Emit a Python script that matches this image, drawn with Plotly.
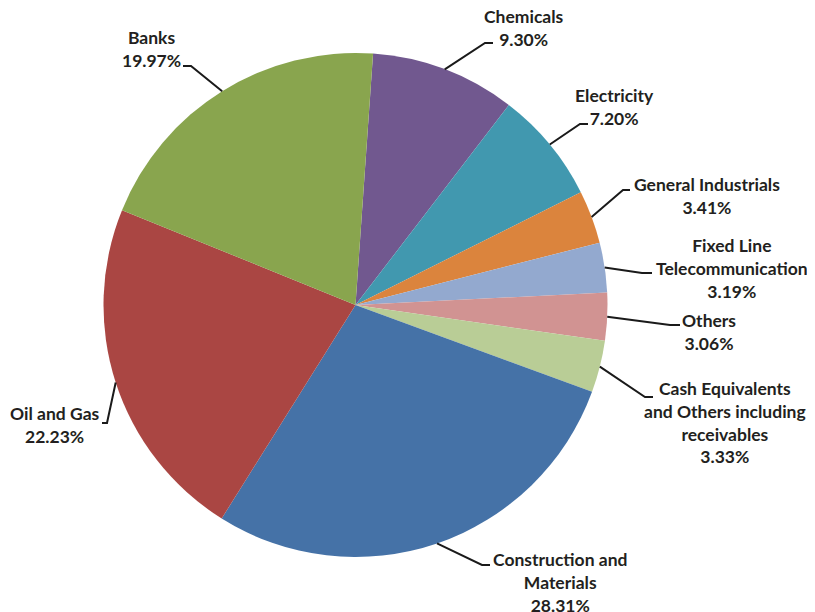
import math
import plotly.graph_objects as go

# ---- data ----
categories = ["Chemicals", "Electricity", "General Industrials",
              "Fixed Line Telecommunication", "Others",
              "Cash Equivalents and Others including receivables",
              "Construction and Materials", "Oil and Gas", "Banks"]
label_lines = ["Chemicals", "Electricity", "General Industrials",
               "Fixed Line<br>Telecommunication", "Others",
               "Cash Equivalents<br>and Others including<br>receivables",
               "Construction and<br>Materials", "Oil and Gas", "Banks"]
values = [9.30, 7.20, 3.41, 3.19, 3.06, 3.33, 28.31, 22.23, 19.97]
colors = ["#71588F", "#4198AF", "#DB843D", "#93A9CF", "#D19392",
          "#B9CD96", "#4572A7", "#AA4643", "#89A54E"]

# ---- layout (pixels, in the 815x612 window frame) ----
OFF = 8                      # page body margin
W, H = 815 - OFF, 612 - OFF  # figure size
CX, CY, R = 355.5, 305.0, 252.0
ROT = 4.0
# label block centre (x, y), elbow (x, y), line end x
label_layout = [
    (524, 28, 485, 43, 493),
    (614, 107.5, 580, 124, 588),
    (707, 196, 623, 190, 630),
    (732, 269, 642, 273, 652),
    (709, 331.5, 670, 325, 680),
    (725, 422.5, 645, 397, 653),
    (560, 582, 482, 565, 490),
    (55, 425, 107, 423, 102),
    (151, 49, 191, 66, 183),
]

def px(x):
    return (x - OFF) / W

def py(y):
    return 1 - (y - OFF) / H

fig = go.Figure(go.Pie(
    labels=categories, values=values, sort=False, direction="clockwise",
    rotation=ROT, marker=dict(colors=colors, line=dict(width=0)),
    textinfo="none", hole=0,
    domain=dict(x=[px(CX - R), px(CX + R)], y=[py(CY + R), py(CY - R)]),
    showlegend=False,
))

total = sum(values)
cum = 0.0
shapes = []
annotations = []
for v, txt, (lx, ly, ex, ey, endx) in zip(values, label_lines, label_layout):
    mid = cum + v / 2
    cum += v
    ang = math.radians(ROT + 360 * mid / total)
    sx = CX + R * math.sin(ang)
    sy = CY - R * math.cos(ang)
    shapes.append(dict(
        type="path", xref="paper", yref="paper",
        path=f"M {px(sx)} {py(sy)} L {px(ex)} {py(ey)} L {px(endx)} {py(ey)}",
        line=dict(color="#1a1a1a", width=2),
    ))
    annotations.append(dict(
        x=px(lx), y=py(ly), xref="paper", yref="paper",
        text=f"<b>{txt}<br>{v:.2f}%</b>", showarrow=False,
        xanchor="center", yanchor="middle", align="center",
        font=dict(family="Lato", size=17.5, color="#231F20"),
    ))

fig.update_layout(
    width=W, height=H, margin=dict(l=0, r=0, t=0, b=0),
    paper_bgcolor="white", plot_bgcolor="white",
    shapes=shapes, annotations=annotations,
)
fig.write_html("out.html")
